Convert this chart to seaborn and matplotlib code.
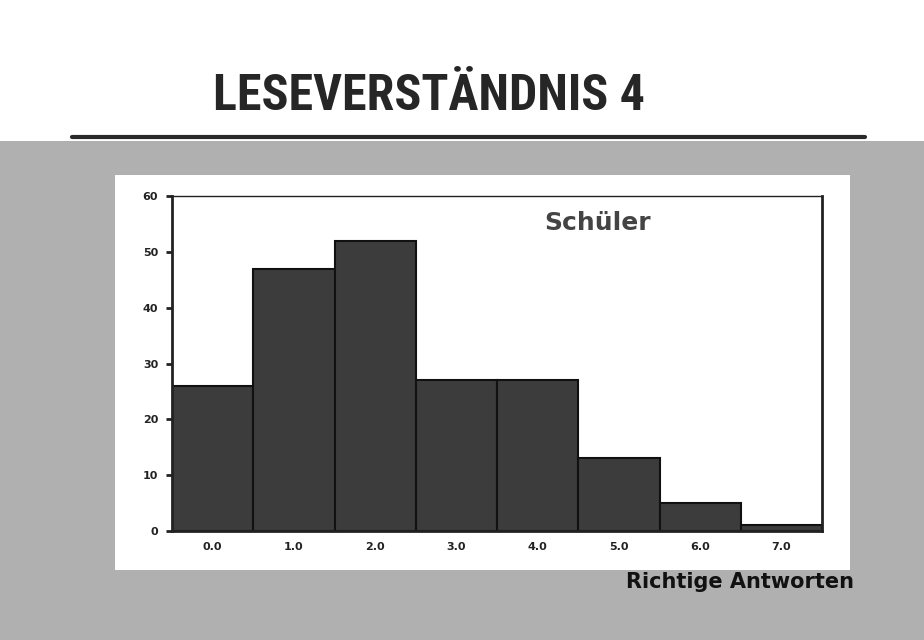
import matplotlib
matplotlib.use("Agg")
import matplotlib.pyplot as plt
import seaborn as sns
import pandas as pd
from matplotlib.patches import Rectangle
from matplotlib.lines import Line2D

# Data
antworten = ["0.0", "1.0", "2.0", "3.0", "4.0", "5.0", "6.0", "7.0"]
schueler = [26, 47, 52, 27, 27, 13, 5, 1]
y_ticks = [0, 10, 20, 30, 40, 50, 60]

df = pd.DataFrame({"Antworten": antworten, "Schueler": schueler})

sns.set_style("white")
plt.rcParams["font.family"] = ["DejaVu Sans"]

fig = plt.figure(figsize=(9.24, 6.4), dpi=100)
fig.patch.set_facecolor("#b0b0b0")

# white band at the top behind the title
fig.add_artist(Rectangle((0, 0.78), 1, 0.22, transform=fig.transFigure,
                         facecolor="white", edgecolor="none", zorder=0))
# white panel behind the chart
fig.add_artist(Rectangle((115 / 924, 1 - 570 / 640), (850 - 115) / 924, (570 - 175) / 640,
                         transform=fig.transFigure, facecolor="white",
                         edgecolor="none", zorder=0))
# rule under the title
fig.add_artist(Line2D([72 / 924, 865 / 924], [1 - 137 / 640, 1 - 137 / 640],
                      transform=fig.transFigure, color="#2a2a2a", lw=3, zorder=1))

fig.text(0.464, 1 - 96 / 640, "LESEVERSTÄNDNIS 4", ha="center", va="center",
         fontsize=36, fontweight="heavy", color="#262626",
         family=["Liberation Sans Narrow", "Roboto Condensed", "DejaVu Sans"])

ax = fig.add_axes([172 / 924, 1 - 531 / 640, (822 - 172) / 924, (531 - 196) / 640])
ax.set_facecolor("white")

sns.barplot(data=df, x="Antworten", y="Schueler", color="#3c3c3c",
            edgecolor="#111111", linewidth=1.5, width=1.0, saturation=1, ax=ax)

ax.set_ylim(0, 60)
ax.set_xlim(-0.5, 7.5)
ax.set_yticks(y_ticks)
ax.set_xlabel("")
ax.set_ylabel("")
for side in ["left", "bottom", "top", "right"]:
    ax.spines[side].set_visible(True)
    ax.spines[side].set_color("#222222")
ax.spines["left"].set_linewidth(2)
ax.spines["bottom"].set_linewidth(2)
ax.spines["top"].set_linewidth(1)
ax.spines["right"].set_linewidth(2)

ax.tick_params(axis="y", length=4, width=2, direction="out", labelsize=8,
               colors="#222222", pad=6, left=True)
ax.tick_params(axis="x", length=0, labelsize=8, colors="#222222", pad=8)
for lab in ax.get_xticklabels() + ax.get_yticklabels():
    lab.set_fontweight("bold")

ax.text(0.572, 0.92, "Schüler", transform=ax.transAxes, ha="left", va="center",
        fontsize=18, fontweight="bold", color="#444444",
        family=["Liberation Sans Narrow", "DejaVu Sans"])

fig.text(740 / 924, 1 - 582 / 640, "Richtige Antworten", ha="center", va="center",
         fontsize=15, fontweight="bold", color="#111111",
         family=["Liberation Sans Narrow", "DejaVu Sans"])

fig.savefig("out.png", dpi=100, facecolor=fig.get_facecolor())
